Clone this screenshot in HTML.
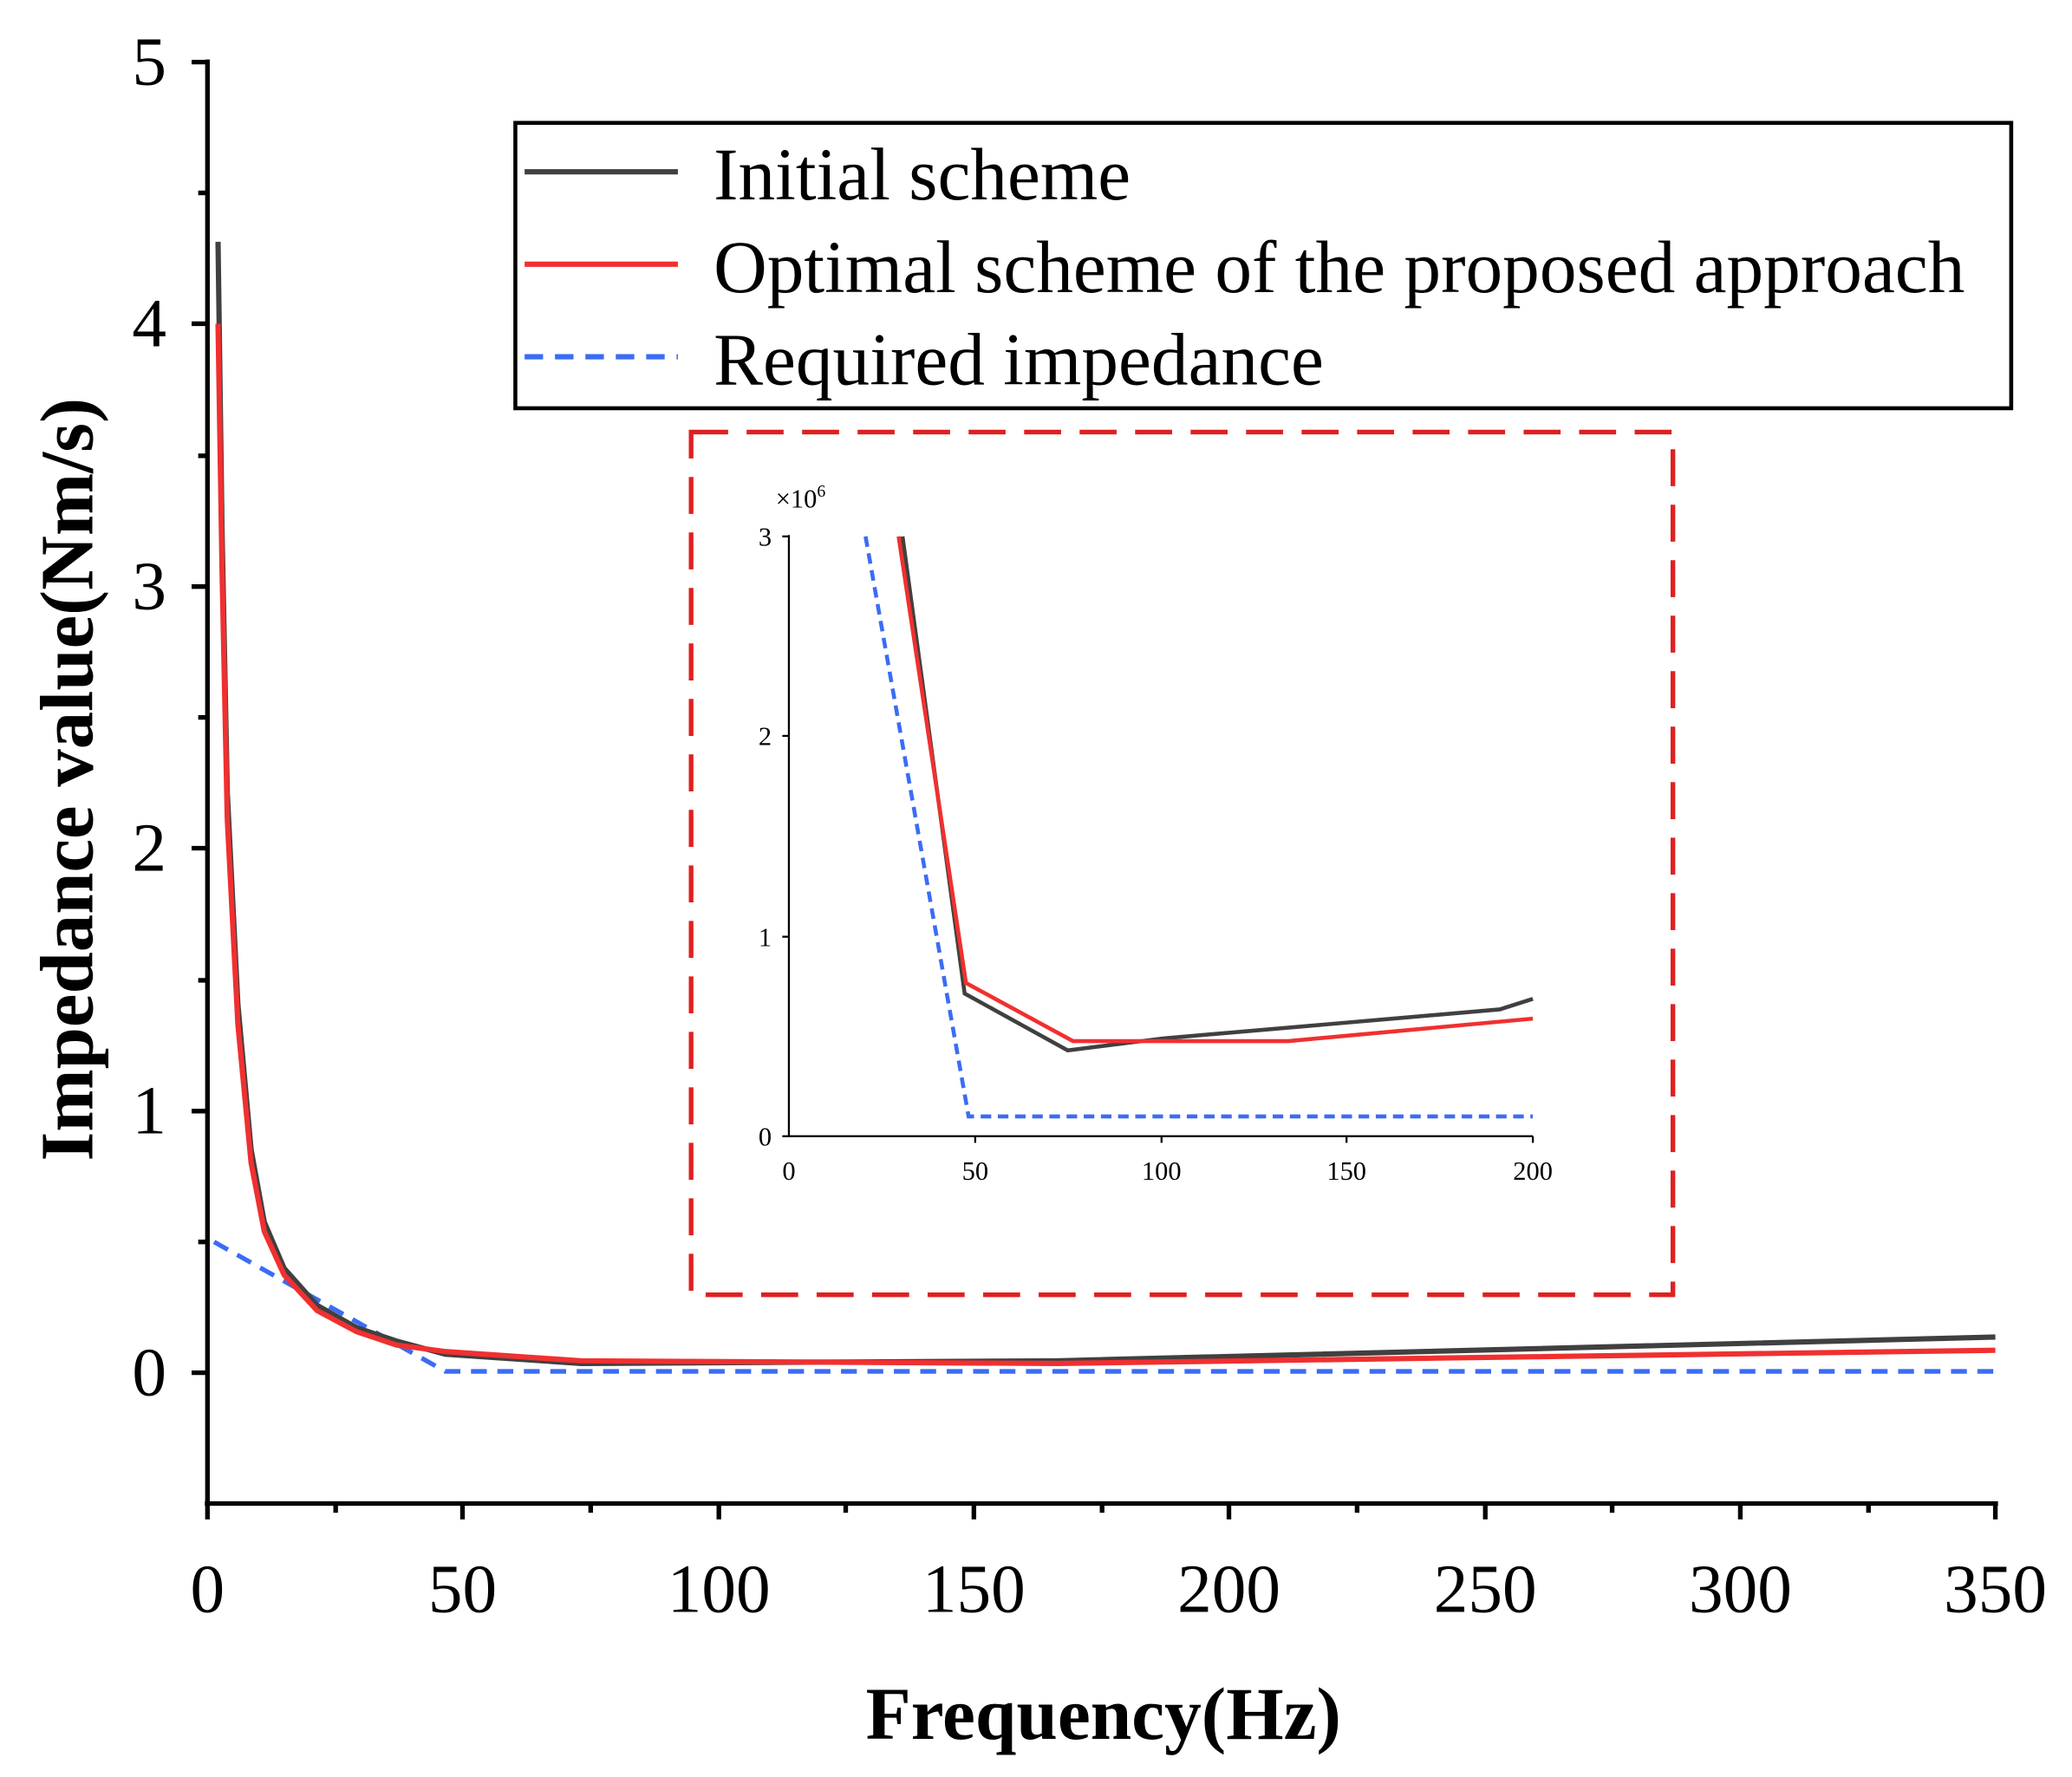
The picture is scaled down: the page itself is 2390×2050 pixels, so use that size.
<!DOCTYPE html>
<html><head><meta charset="utf-8"><style>
html,body{margin:0;padding:0;background:#fff;}
svg{display:block;}
text{font-family:"Liberation Serif",serif;}
</style></head><body>
<svg width="2390" height="2050" viewBox="0 0 1568 1345" preserveAspectRatio="none" xmlns="http://www.w3.org/2000/svg">
<rect width="1568" height="1345" fill="#fff"/>
<g stroke="#000" stroke-width="3.5" fill="none">
<line x1="157" y1="45" x2="157" y2="1139"/>
<line x1="155" y1="1138" x2="1512" y2="1138"/>
<line x1="145" y1="47" x2="157" y2="47"/>
<line x1="145" y1="245" x2="157" y2="245"/>
<line x1="145" y1="444" x2="157" y2="444"/>
<line x1="145" y1="642" x2="157" y2="642"/>
<line x1="145" y1="841" x2="157" y2="841"/>
<line x1="145" y1="1039" x2="157" y2="1039"/>
<line x1="150" y1="146" x2="157" y2="146"/>
<line x1="150" y1="345" x2="157" y2="345"/>
<line x1="150" y1="543" x2="157" y2="543"/>
<line x1="150" y1="742" x2="157" y2="742"/>
<line x1="150" y1="940" x2="157" y2="940"/>
<line x1="157" y1="1138" x2="157" y2="1150"/>
<line x1="350" y1="1138" x2="350" y2="1150"/>
<line x1="544" y1="1138" x2="544" y2="1150"/>
<line x1="737" y1="1138" x2="737" y2="1150"/>
<line x1="930" y1="1138" x2="930" y2="1150"/>
<line x1="1124" y1="1138" x2="1124" y2="1150"/>
<line x1="1317" y1="1138" x2="1317" y2="1150"/>
<line x1="1510" y1="1138" x2="1510" y2="1150"/>
<line x1="254" y1="1138" x2="254" y2="1145"/>
<line x1="447" y1="1138" x2="447" y2="1145"/>
<line x1="640" y1="1138" x2="640" y2="1145"/>
<line x1="834" y1="1138" x2="834" y2="1145"/>
<line x1="1027" y1="1138" x2="1027" y2="1145"/>
<line x1="1220" y1="1138" x2="1220" y2="1145"/>
<line x1="1414" y1="1138" x2="1414" y2="1145"/>
</g>
<g font-size="52" text-anchor="end">
<text x="126" y="64">5</text>
<text x="126" y="262">4</text>
<text x="126" y="461">3</text>
<text x="126" y="659">2</text>
<text x="126" y="858">1</text>
<text x="126" y="1056">0</text>
</g>
<g font-size="52" text-anchor="middle">
<text x="157" y="1220">0</text>
<text x="350" y="1220">50</text>
<text x="544" y="1220">100</text>
<text x="737" y="1220">150</text>
<text x="930" y="1220">200</text>
<text x="1124" y="1220">250</text>
<text x="1317" y="1220">300</text>
<text x="1510" y="1220">350</text>
</g>
<text x="835" y="1316" font-size="56" font-weight="bold" text-anchor="middle">Frequency(Hz)</text>
<text transform="translate(70,590) rotate(-90)" font-size="57" font-weight="bold" text-anchor="middle">Impedance value(Nm/s)</text>
<polyline fill="none" stroke="#3b6cf5" stroke-width="3.5" stroke-dasharray="12,8" points="162,940 337,1038 1510,1038"/>
<polyline fill="none" stroke="#404040" stroke-width="4" points="165,183 168,400 172,600 180,760 190,870 200,925 215,960 240,988 270,1005 300,1015 337,1025 440,1032 800,1030 1510,1012"/>
<polyline fill="none" stroke="#f03030" stroke-width="4" points="165,245 168,430 172,620 180,775 190,880 200,932 215,965 240,992 270,1008 300,1018 337,1023 440,1030 800,1032 1510,1022"/>
<rect x="390" y="93" width="1132" height="216" fill="#fff" stroke="#000" stroke-width="3"/>
<line x1="397" y1="130" x2="513" y2="130" stroke="#404040" stroke-width="4"/>
<line x1="397" y1="200" x2="513" y2="200" stroke="#f03030" stroke-width="4"/>
<line x1="397" y1="270" x2="513" y2="270" stroke="#3b6cf5" stroke-width="4" stroke-dasharray="14,9"/>
<g font-size="56">
<text x="540" y="151">Initial scheme</text>
<text x="540" y="221">Optimal scheme of the proposed approach</text>
<text x="540" y="291">Required impedance</text>
</g>
<rect x="523" y="327" width="743" height="653" fill="none" stroke="#e02020" stroke-width="3.5" stroke-dasharray="28,14"/>
<g stroke="#000" stroke-width="1.5">
<line x1="597" y1="405" x2="597" y2="860"/>
<line x1="597" y1="860" x2="1160" y2="860"/>
<line x1="592" y1="406" x2="597" y2="406"/>
<line x1="592" y1="557" x2="597" y2="557"/>
<line x1="592" y1="709" x2="597" y2="709"/>
<line x1="592" y1="860" x2="597" y2="860"/>
<line x1="738" y1="860" x2="738" y2="865"/>
<line x1="879" y1="860" x2="879" y2="865"/>
<line x1="1019" y1="860" x2="1019" y2="865"/>
<line x1="1160" y1="860" x2="1160" y2="865"/>
</g>
<g font-size="20" text-anchor="end">
<text x="584" y="413">3</text>
<text x="584" y="564">2</text>
<text x="584" y="716">1</text>
<text x="584" y="867">0</text>
</g>
<g font-size="20" text-anchor="middle">
<text x="597" y="893">0</text>
<text x="738" y="893">50</text>
<text x="879" y="893">100</text>
<text x="1019" y="893">150</text>
<text x="1160" y="893">200</text>
</g>
<text x="587" y="384" font-size="20">×10<tspan font-size="13" dy="-8">6</tspan></text>
<polyline fill="none" stroke="#3b6cf5" stroke-width="3" stroke-dasharray="8,5" points="655,406 733,845 1160,845"/>
<polyline fill="none" stroke="#404040" stroke-width="3" points="683,406 730,752 808,795 880,786 1135,764 1160,756"/>
<polyline fill="none" stroke="#f03030" stroke-width="3" points="680,406 731,744 812,788 975,788 1160,771"/>
</svg>
</body></html>
